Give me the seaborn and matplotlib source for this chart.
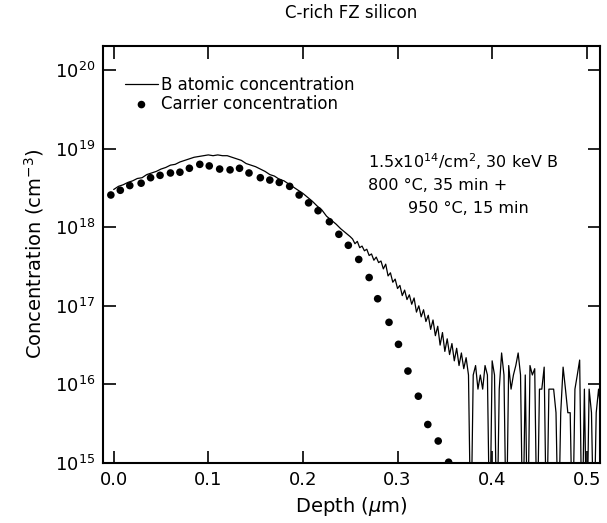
import numpy as np
import pandas as pd
import seaborn as sns
import matplotlib.pyplot as plt

# B atomic concentration (SIMS), depth in um, log10 of concentration in cm^-3
# (values of 14.0 are count dropouts that fall below the 1e15 axis floor)
b_depth = [
    0.000, 0.005, 0.010, 0.015, 0.020, 0.025, 0.030, 0.035, 0.040, 0.045,
    0.050, 0.055, 0.060, 0.065, 0.070, 0.075, 0.080, 0.085, 0.090, 0.095,
    0.100, 0.105, 0.110, 0.115, 0.120, 0.125, 0.130, 0.135, 0.140, 0.145,
    0.150, 0.155, 0.160, 0.165, 0.170, 0.175, 0.180, 0.185, 0.190, 0.195,
    0.200, 0.205, 0.210, 0.215, 0.220, 0.225, 0.230, 0.235, 0.240, 0.245,
    0.250, 0.2525, 0.2550, 0.2575, 0.2600, 0.2625, 0.2650, 0.2675, 0.2700,
    0.2725, 0.2750, 0.2775, 0.2800, 0.2825, 0.2850, 0.2875, 0.2900, 0.2925,
    0.2950, 0.2975, 0.3000, 0.3025, 0.3050, 0.3075, 0.3100, 0.3125, 0.3150,
    0.3175, 0.3200, 0.3225, 0.3250, 0.3275, 0.3300, 0.3325, 0.3350, 0.3375,
    0.3400, 0.3425, 0.3450, 0.3475, 0.3500, 0.3525, 0.3550, 0.3575, 0.3600,
    0.3625, 0.3650, 0.3675, 0.3700, 0.3725, 0.3750, 0.3775, 0.3800, 0.3825,
    0.3850, 0.3875, 0.3900, 0.3925, 0.3950, 0.3975, 0.4000, 0.4025, 0.4050,
    0.4075, 0.4100, 0.4125, 0.4150, 0.4175, 0.4200, 0.4225, 0.4250, 0.4275,
    0.4300, 0.4325, 0.4350, 0.4375, 0.4400, 0.4425, 0.4450, 0.4475, 0.4500,
    0.4525, 0.4550, 0.4575, 0.4600, 0.4625, 0.4650, 0.4675, 0.4700, 0.4725,
    0.4750, 0.4775, 0.4800, 0.4825, 0.4850, 0.4875, 0.4900, 0.4925, 0.4950,
    0.4975, 0.5000, 0.5025, 0.5050, 0.5075, 0.5100, 0.5125, 0.5150,
]
b_log = [
    18.48, 18.52, 18.54, 18.57, 18.59, 18.62, 18.63, 18.67, 18.69, 18.71,
    18.74, 18.76, 18.79, 18.80, 18.83, 18.85, 18.87, 18.89, 18.90, 18.91,
    18.92, 18.91, 18.92, 18.91, 18.91, 18.89, 18.87, 18.85, 18.81, 18.79,
    18.77, 18.74, 18.71, 18.67, 18.65, 18.61, 18.59, 18.55, 18.51, 18.47,
    18.43, 18.38, 18.33, 18.27, 18.22, 18.14, 18.09, 18.04, 17.98, 17.93,
    17.88, 17.85, 17.79, 17.82, 17.74, 17.76, 17.70, 17.72, 17.64,
    17.66, 17.58, 17.62, 17.55, 17.57, 17.47, 17.53, 17.38, 17.42,
    17.30, 17.34, 17.22, 17.26, 17.13, 17.20, 17.08, 17.14, 17.02,
    17.10, 16.92, 17.00, 16.86, 16.95, 16.80, 16.88, 16.70, 16.82,
    16.62, 16.74, 16.50, 16.66, 16.42, 16.58, 16.38, 16.52, 16.30,
    16.46, 16.24, 16.40, 16.20, 16.34, 16.12, 14.00, 16.12, 16.24,
    15.94, 16.12, 15.94, 16.24, 16.12, 14.00, 16.30, 16.12, 14.00,
    15.94, 16.40, 16.12, 14.00, 16.24, 15.94, 16.12, 16.24, 16.40,
    16.12, 14.00, 16.12, 14.00, 16.24, 16.12, 16.20, 14.00, 15.94,
    15.94, 16.22, 14.00, 15.94, 15.94, 15.94, 15.64, 14.00, 15.64,
    16.22, 15.94, 15.64, 15.64, 14.00, 15.94, 16.12, 16.31, 14.00,
    15.94, 14.00, 15.94, 15.64, 14.00, 15.64, 15.94, 15.64,
]

# carrier concentration (spreading resistance), log10 cm^-3
carrier_depth = [
    -0.003, 0.007, 0.017, 0.029, 0.039, 0.049, 0.060, 0.070, 0.080, 0.091,
    0.101, 0.112, 0.123, 0.133, 0.143, 0.155, 0.165, 0.175, 0.186, 0.196,
    0.206, 0.216, 0.228, 0.238, 0.248, 0.259, 0.270, 0.279, 0.291, 0.301,
    0.311, 0.322, 0.332, 0.343, 0.354,
]
carrier_log = [
    18.41, 18.47, 18.53, 18.56, 18.63, 18.66, 18.69, 18.70, 18.75, 18.80,
    18.78, 18.74, 18.73, 18.75, 18.69, 18.63, 18.60, 18.57, 18.52, 18.41,
    18.31, 18.21, 18.07, 17.91, 17.77, 17.59, 17.36, 17.09, 16.79, 16.51,
    16.17, 15.85, 15.49, 15.28, 15.01,
]

x_ticks = [0.0, 0.1, 0.2, 0.3, 0.4, 0.5]
y_ticks = [1e15, 1e16, 1e17, 1e18, 1e19, 1e20]

b_df = pd.DataFrame({"depth": b_depth, "conc": 10.0 ** np.array(b_log)})
c_df = pd.DataFrame({"depth": carrier_depth, "conc": 10.0 ** np.array(carrier_log)})

sns.set_style("ticks", {"axes.edgecolor": "black", "text.color": "black",
                        "axes.labelcolor": "black", "xtick.color": "black",
                        "ytick.color": "black"})
plt.rcParams["font.family"] = ["DejaVu Sans"]

fig = plt.figure(figsize=(6.07, 5.23), dpi=100)
ax = fig.add_axes([0.170, 0.1147, 0.818, 0.798])

sns.lineplot(data=b_df, x="depth", y="conc", ax=ax, color="black", lw=0.9,
             sort=False, estimator=None, label="B atomic concentration")
sns.scatterplot(data=c_df, x="depth", y="conc", ax=ax, color="black", s=30,
                edgecolor="none", label="Carrier concentration", zorder=3)

ax.set_yscale("log")
ax.set_xlim(-0.0111, 0.5137)
ax.set_ylim(1e15, 10 ** 20.31)
ax.set_xticks(x_ticks)
ax.set_xticklabels([f"{t:.1f}" for t in x_ticks])
ax.set_yticks(y_ticks)
ax.set_yticklabels([f"$10^{{{int(np.log10(t))}}}$" for t in y_ticks])
ax.minorticks_off()
ax.tick_params(which="major", direction="in", length=9, width=1.2,
               top=True, right=True, labelsize=13, pad=6, colors="black")
for s in ax.spines.values():
    s.set_linewidth(1.5)
    s.set_color("black")

ax.set_xlabel(r"Depth ($\mu$m)", fontsize=14, labelpad=4, color="black")
ax.set_ylabel(r"Concentration (cm$^{-3}$)", fontsize=14, labelpad=6, color="black")
ax.set_title("C-rich FZ silicon", fontsize=12, pad=20, color="black")

leg = ax.legend(loc="upper left", bbox_to_anchor=(0.02, 0.955), frameon=False,
                fontsize=12, handlelength=2.0, handletextpad=0.15,
                labelspacing=0.05, borderpad=0.2)
for t in leg.get_texts():
    t.set_color("black")

ax.text(0.533, 0.721, r"1.5x10$^{14}$/cm$^2$, 30 keV B", transform=ax.transAxes,
        fontsize=11.5, va="center", ha="left", color="black")
ax.text(0.533, 0.666, "800 °C, 35 min +", transform=ax.transAxes,
        fontsize=11.5, va="center", ha="left", color="black")
ax.text(0.614, 0.611, "950 °C, 15 min", transform=ax.transAxes,
        fontsize=11.5, va="center", ha="left", color="black")

fig.savefig("out.png", dpi=100)
